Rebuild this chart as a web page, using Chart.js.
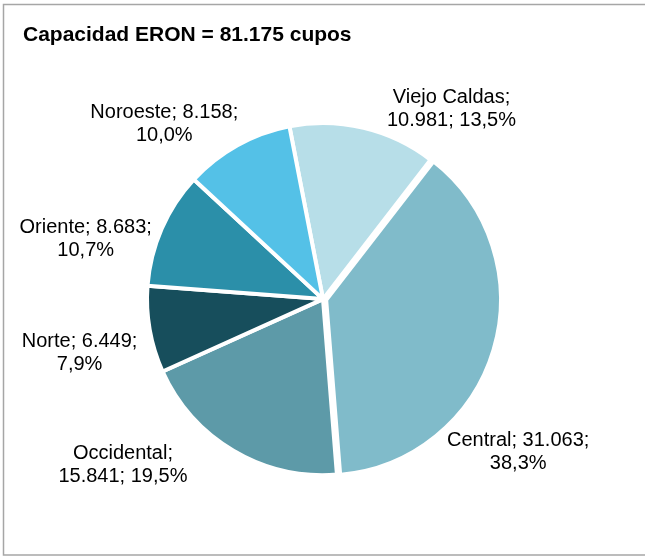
<!DOCTYPE html>
<html lang="es">
<head>
  <meta charset="UTF-8" />
  <title>Capacidad ERON</title>
  <script src="https://cdn.jsdelivr.net/npm/chart.js"></script>
  <style>
    html, body { margin: 0; padding: 0; background: #fff; overflow: hidden; }
    #wrap { width: 645px; height: 557px; }
  </style>
</head>
<body>
  <div id="wrap"><canvas id="chartEron" width="645" height="557"></canvas></div>

  <script>
    // Datos
    const regiones = ['Viejo Caldas', 'Central', 'Occidental', 'Norte', 'Oriente', 'Noroeste'];
    const cupos = [10981, 31063, 15841, 6449, 8683, 8158];
    const porcentajes = ['13,5%', '38,3%', '19,5%', '7,9%', '10,7%', '10,0%'];
    const cuposTexto = ['10.981', '31.063', '15.841', '6.449', '8.683', '8.158'];

    const colores = ['#B7DEE8', '#80BBCA', '#5D9AA8', '#174E5C', '#2B8FA9', '#54C1E7'];

    // etiquetas en dos lineas, como en el original
    const lineas = [
      ['Viejo Caldas;', cuposTexto[0] + '; ' + porcentajes[0]],
      ['Central; ' + cuposTexto[1] + ';', porcentajes[1]],
      ['Occidental;', cuposTexto[2] + '; ' + porcentajes[2]],
      ['Norte; ' + cuposTexto[3] + ';', porcentajes[3]],
      ['Oriente; ' + cuposTexto[4] + ';', porcentajes[4]],
      ['Noroeste; ' + cuposTexto[5] + ';', porcentajes[5]]
    ];

    // ajuste manual de la posicion de cada etiqueta (tipo "mejor ajuste" de Excel)
    const ajusteEtiquetas = [[74, 39.5], [-31, 85.5], [-80, -37.5], [-11, 12.5], [-21, 34.5], [-44, 31.5]];

    const marco = {
      id: 'marco',
      beforeDraw(chart) {
        const ctx = chart.ctx;
        ctx.save();
        ctx.strokeStyle = '#a6a6a6';
        ctx.lineWidth = 1.5;
        // sin lado derecho: el marco sigue fuera de la imagen
        ctx.beginPath();
        ctx.moveTo(chart.width + 5, 4.5);
        ctx.lineTo(3.5, 4.5);
        ctx.lineTo(3.5, 555);
        ctx.lineTo(chart.width + 5, 555);
        ctx.stroke();
        ctx.restore();
      }
    };

    const etiquetas = {
      id: 'etiquetas',
      afterDatasetsDraw(chart) {
        const ctx = chart.ctx;
        const meta = chart.getDatasetMeta(0);
        ctx.save();
        ctx.font = '20px "Liberation Sans", Arial, sans-serif';
        ctx.fillStyle = '#000';
        ctx.textAlign = 'center';
        ctx.textBaseline = 'middle';
        meta.data.forEach((arc, i) => {
          const p = arc.getProps(['x', 'y', 'startAngle', 'endAngle', 'outerRadius'], true);
          const mid = (p.startAngle + p.endAngle) / 2;
          const r = p.outerRadius + 60;
          const cx = p.x + Math.cos(mid) * r + ajusteEtiquetas[i][0];
          const cy = p.y + Math.sin(mid) * r + ajusteEtiquetas[i][1];
          ctx.fillText(lineas[i][0], cx, cy - 11.5);
          ctx.fillText(lineas[i][1], cx, cy + 11.5);
        });
        ctx.restore();
      }
    };

    new Chart(document.getElementById('chartEron'), {
      type: 'pie',
      data: {
        labels: regiones,
        datasets: [{
          data: cupos,
          backgroundColor: colores,
          borderColor: '#fff',
          borderWidth: [4, 6, 4, 4, 4, 4],
          offset: [0, 9, 0, 0, 0, 0]
        }]
      },
      options: {
        responsive: false,
        animation: false,
        rotation: -11,
        radius: 176,
        layout: { padding: { left: 23, right: 22, top: 13, bottom: 17 } },
        plugins: {
          legend: { display: false },
          tooltip: { enabled: false },
          title: {
            display: true,
            text: 'Capacidad ERON = 81.175 cupos',
            align: 'start',
            color: '#000',
            font: { family: '"Liberation Sans", Arial, sans-serif', size: 21, weight: 'bold', lineHeight: 1.2 },
            padding: { top: 10, bottom: 10 }
          }
        }
      },
      plugins: [marco, etiquetas]
    });
  </script>
</body>
</html>
